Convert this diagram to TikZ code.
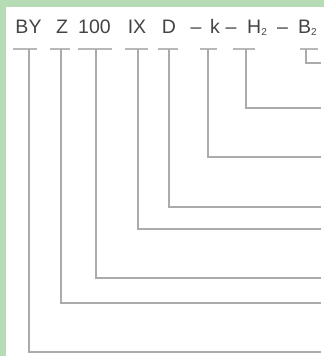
\documentclass[tikz,border=0pt]{standalone}
\usepackage{fontspec}
\setmainfont{Liberation Sans}
\definecolor{bggreen}{HTML}{B5DCB5}
\definecolor{ln}{HTML}{ABABAB}
\definecolor{txt}{HTML}{444444}
\newcommand{\subtwo}{\raisebox{-2.5pt}{\fontsize{10}{10}\selectfont 2}}
\begin{document}
\begin{tikzpicture}[x=1pt,y=-1pt,
  lbl/.style={anchor=base,inner sep=0pt,font=\fontsize{19.5}{19.5}\selectfont,text=txt},
  conn/.style={draw=ln,line width=1.6pt},
  tickbar/.style={draw=ln!85,line width=1.4pt}]
\fill[bggreen] (0,0) rectangle (324,356);
\fill[white] (6,7) rectangle (324,356);
\useasboundingbox (0,0) rectangle (324,356);
% labels
\node[lbl] (BY) at (28.5,33) {BY};
\node[lbl] (Z) at (62,33) {Z};
\node[lbl] (n100) at (94.5,33) {100};
\node[lbl] (IX) at (137,33) {IX};
\node[lbl] (D) at (169,33) {D};
\node[lbl] (d1) at (196,33) {--};
\node[lbl] (k) at (215,33) {k};
\node[lbl] (d2) at (231,33) {--};
\node[lbl] (H) at (257,33) {H\subtwo};
\node[lbl] (d3) at (282.5,33) {--};
\node[lbl] (B) at (307.5,33) {B\subtwo};
% tick coordinates
\coordinate (tBY) at (29,49);
\coordinate (tZ) at (61,49);
\coordinate (t100) at (96,49);
\coordinate (tIX) at (138,49);
\coordinate (tD) at (169,49);
\coordinate (tk) at (208,49);
\coordinate (tH) at (246,49);
\coordinate (tB) at (306,49);
% end coordinates
\coordinate (eBY) at (321,352);
\coordinate (eZ) at (321,303);
\coordinate (e100) at (321,278);
\coordinate (eIX) at (321,229);
\coordinate (eD) at (321,207);
\coordinate (ek) at (321,157);
\coordinate (eH) at (321,108);
\coordinate (eB) at (321,63);
% tick bars
\draw[tickbar] (13,49) -- (37,49);
\draw[tickbar] (50,49) -- (70,49);
\draw[tickbar] (78,49) -- (112,49);
\draw[tickbar] (125,49) -- (148,49);
\draw[tickbar] (158,49) -- (178,49);
\draw[tickbar] (200,49) -- (217,49);
\draw[tickbar] (233,49) -- (255,49);
\draw[tickbar] (300,49) -- (318,49);
% connectors
\draw[conn] (tBY) |- (eBY);
\draw[conn] (tZ) |- (eZ);
\draw[conn] (t100) |- (e100);
\draw[conn] (tIX) |- (eIX);
\draw[conn] (tD) |- (eD);
\draw[conn] (tk) |- (ek);
\draw[conn] (tH) |- (eH);
\draw[conn] (tB) |- (eB);
\end{tikzpicture}
\end{document}
